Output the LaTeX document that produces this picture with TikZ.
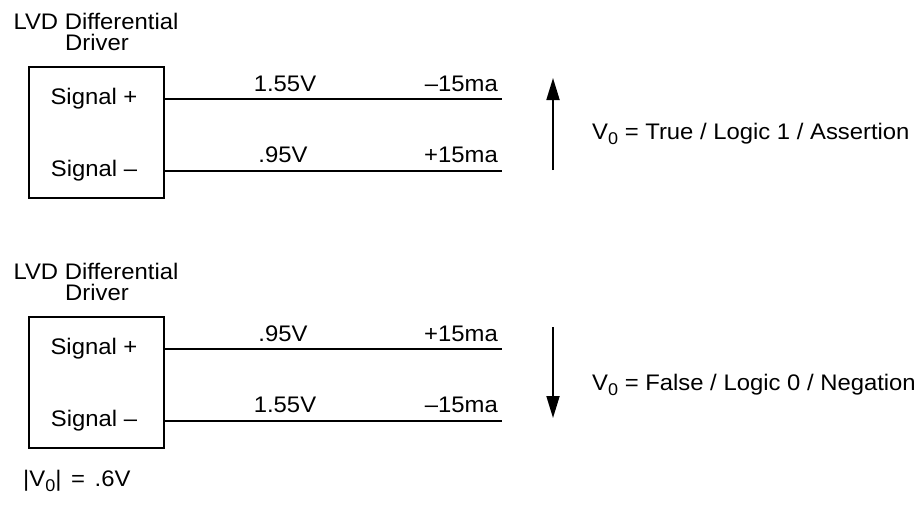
\documentclass[tikz,border=0pt]{standalone}
\usepackage{fontspec}
\setmainfont{Liberation Sans}[FakeStretch=1.06]
\usetikzlibrary{arrows.meta}
\newcommand{\subzero}{\raisebox{-5pt}{\fontsize{17}{17}\selectfont 0}}
\begin{document}
\begin{tikzpicture}[x=1pt,y=-1pt,
  txt/.style={inner sep=0pt,font=\fontsize{22.5}{26}\selectfont},
  drvbox/.style={draw,line width=1.8pt,minimum width=135pt,minimum height=131pt,inner sep=0pt,anchor=north west},
  wire/.style={line width=1.8pt},
  varrow/.style={line width=1.8pt,-{Triangle[length=22pt,width=13pt]}}]
\useasboundingbox (0,0) rectangle (920,509);
% ---------- top (assertion) ----------
\node[txt,anchor=base] (t1) at (96,29) {LVD Differential};
\node[txt,anchor=base] (t2) at (97,50) {Driver};
\node[drvbox] (box1) at (28,66) {};
\node[txt,anchor=base] (sp1) at (94,104) {Signal +};
\node[txt,anchor=base] (sm1) at (94,176) {Signal –};
\coordinate (e1) at (502,99);
\coordinate (e2) at (502,171);
\draw[wire] (box1.east |- e1) -- (e1);
\draw[wire] (box1.east |- e2) -- (e2);
\node[txt,anchor=base] (v1) at (285,91) {1.55V};
\node[txt,anchor=base east] (i1) at (498,91) {–15ma};
\node[txt,anchor=base] (v2) at (283,162) {.95V};
\node[txt,anchor=base east] (i2) at (498,162) {+15ma};
\coordinate (a1t) at (553,170);
\coordinate (a1h) at (553,78);
\draw[varrow] (a1t) -- (a1h);
\node[txt,anchor=base west] (lab1) at (592,139) {V\subzero{} = True / Logic 1 / Assertion};
% ---------- bottom (negation) ----------
\node[txt,anchor=base] (t3) at (96,279) {LVD Differential};
\node[txt,anchor=base] (t4) at (97,300) {Driver};
\node[drvbox] (box2) at (28,316) {};
\node[txt,anchor=base] (sp2) at (94,354) {Signal +};
\node[txt,anchor=base] (sm2) at (94,426) {Signal –};
\coordinate (e3) at (502,349);
\coordinate (e4) at (502,421);
\draw[wire] (box2.east |- e3) -- (e3);
\draw[wire] (box2.east |- e4) -- (e4);
\node[txt,anchor=base] (v3) at (283,341) {.95V};
\node[txt,anchor=base east] (i3) at (498,341) {+15ma};
\node[txt,anchor=base] (v4) at (285,412) {1.55V};
\node[txt,anchor=base east] (i4) at (498,412) {–15ma};
\coordinate (a2t) at (553,327);
\coordinate (a2h) at (553,418);
\draw[varrow] (a2t) -- (a2h);
\node[txt,anchor=base west] (lab2) at (592,390) {V\subzero{} = False / Logic 0 / Negation};
\node[txt,anchor=base west] (mag) at (23,486) {|V\subzero|\hspace{3pt} = \hspace{3pt}.6V};
\end{tikzpicture}
\end{document}
